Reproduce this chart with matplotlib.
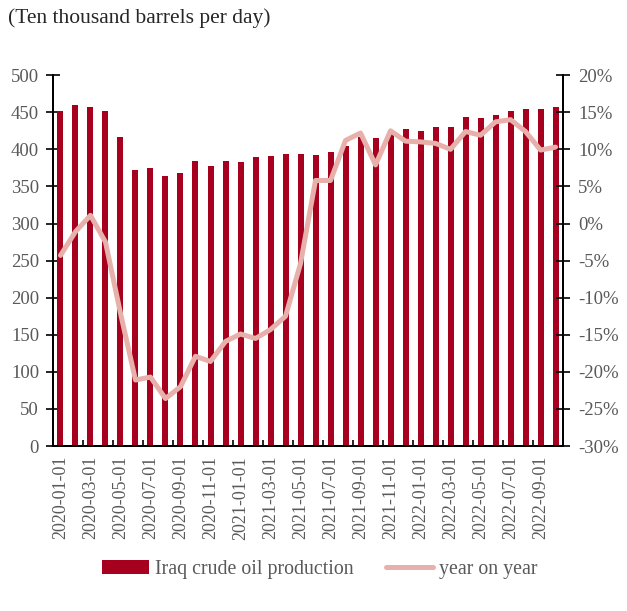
import numpy as np
import pandas as pd
import matplotlib
matplotlib.use('Agg')
import matplotlib.pyplot as plt
from matplotlib.ticker import FuncFormatter

plt.rcParams['font.family'] = ['Liberation Serif', 'DejaVu Serif']

# monthly categories 2020-01 .. 2022-10
months = pd.date_range('2020-01-01', '2022-10-01', freq='MS').strftime('%Y-%m-%d').tolist()

production = [451, 460, 457, 451, 416, 372, 375, 364, 368, 384,
              377, 384, 383, 389, 391, 394, 394, 392, 396, 405,
              416, 415, 425, 427, 425, 430, 430, 443, 442, 446,
              452, 454, 454, 457]

yoy = [-4.3, -1.1, 1.1, -2.5, -12.1, -21.1, -20.7, -23.6, -22.0, -17.9,
       -18.6, -15.9, -14.9, -15.5, -14.3, -12.5, -5.4, 5.8, 5.8, 11.2,
       12.2, 7.9, 12.5, 11.1, 11.0, 10.8, 10.0, 12.4, 11.9, 13.7,
       14.0, 12.4, 9.9, 10.3]

bar_color = '#A6001E'
line_color = '#E8B0AB'
tick_color = '#595959'

fig = plt.figure(figsize=(6.27, 6.11), dpi=100)
ax = fig.add_axes([0.0845, 0.27, 0.8135, 0.607])
x = np.arange(len(months))

ax.bar(x, production, width=0.4, color=bar_color, label='Iraq crude oil production', zorder=2)
ax.set_xlim(-0.5, len(months) - 0.5)
ax.set_ylim(0, 500)
ax.set_yticks(np.arange(0, 501, 50))

ax2 = ax.twinx()
ax2.plot(x, yoy, color=line_color, lw=3.6, label='year on year', zorder=3,
         solid_joinstyle='round', solid_capstyle='round')
ax2.set_ylim(-30, 20)
ax2.set_yticks(np.arange(-30, 21, 5))
ax2.yaxis.set_major_formatter(FuncFormatter(lambda v, p: '%d%%' % v))

# x labels every two months, small ticks on category boundaries
ax.set_xticks(x[::2])
ax.set_xticklabels(months[::2], rotation=90)
ax.set_xticks(np.arange(1.5, len(months), 2), minor=True)
ax.tick_params(axis='x', which='major', length=0, pad=7, labelsize=13, labelcolor=tick_color)
ax.tick_params(axis='x', which='minor', direction='in', length=4, width=1.2, color='black')

ax.tick_params(axis='y', direction='inout', length=10, width=1.2, labelsize=13.5,
               labelcolor=tick_color, pad=5)
ax2.tick_params(axis='y', direction='inout', length=10, width=1.2, labelsize=13.5,
                labelcolor=tick_color, pad=6)

for a in (ax, ax2):
    a.spines['top'].set_visible(False)
    for s in ('left', 'right', 'bottom'):
        a.spines[s].set_linewidth(1.4)
        a.spines[s].set_color('black')

fig.text(0.012, 0.97, '(Ten thousand barrels per day)', fontsize=15.5,
         color='#262626', va='center', ha='left')

h1, l1 = ax.get_legend_handles_labels()
h2, l2 = ax2.get_legend_handles_labels()
fig.legend(h1 + h2, l1 + l2, loc='center', bbox_to_anchor=(0.51, 0.068), ncol=2,
           frameon=False, fontsize=14.3, handlelength=2.4, handleheight=0.7,
           columnspacing=1.6, handletextpad=0.3, labelcolor=tick_color)

fig.savefig('out.png', dpi=100)
